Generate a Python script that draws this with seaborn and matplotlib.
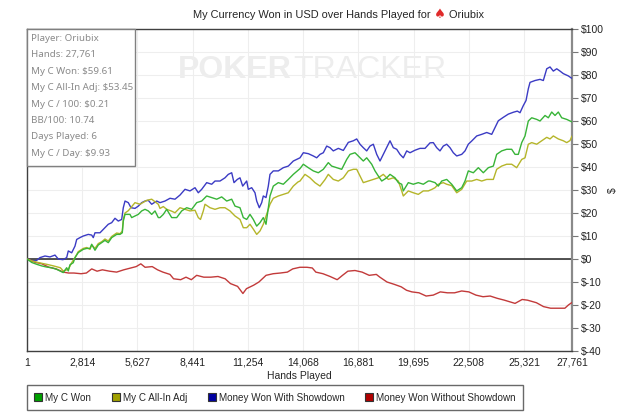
import matplotlib
matplotlib.use("Agg")
import matplotlib.pyplot as plt
from matplotlib.patches import Rectangle
from matplotlib.lines import Line2D
from matplotlib.ticker import FuncFormatter
import pandas as pd
import seaborn as sns

# -----------------------------
# DATA
# -----------------------------
won_hands = [1, 239, 494, 749, 1003, 1258, 1513, 1681, 1849, 2022,
             2104, 2191, 2359, 2445, 2613, 2868, 3041, 3210, 3296, 3464,
             3632, 3805, 3973, 4141, 4315, 4569, 4737, 4854, 4906, 4993,
             5247, 5333, 5502, 5670, 5843, 6011, 6179, 6352, 6521, 6689,
             6775, 6945, 7116, 7371, 7626, 7881, 8135, 8390, 8645, 8899,
             9154, 9409, 9663, 9918, 10173, 10427, 10596, 10850, 11018, 11191,
             11360, 11528, 11701, 11869, 12037, 12175, 12292, 12378, 12547, 12802,
             13056, 13311, 13566, 13907, 14075, 14330, 14584, 14839, 15094, 15348,
             15520, 15776, 16031, 16286, 16454, 16709, 16963, 17131, 17304, 17559,
             17728, 17895, 18069, 18323, 18491, 18747, 18914, 19087, 19168, 19423,
             19678, 19932, 20187, 20442, 20529, 20784, 20952, 21125, 21379, 21634,
             21889, 22144, 22312, 22480, 22735, 22990, 23244, 23499, 23754, 23924,
             24179, 24434, 24689, 24859, 25027, 25200, 25368, 25536, 25709, 25964,
             26132, 26387, 26555, 26728, 26896, 27064, 27237, 27492, 27761]
won_usd = [0, -1.5, -2.3, -3.0, -3.5, -3.8, -4.5, -5.2, -5.9, -3.8,
           -5.2, -2.5, -1.6, 0.6, 2.8, 4.2, 4.6, 4.6, 6.4, 3.8,
           6.1, 7.1, 8.1, 7.1, 9.3, 10.7, 10.7, 11.4, 16.5, 19.4,
           19.4, 18.0, 18.7, 19.4, 20.9, 21.6, 20.9, 19.4, 20.9, 18.0,
           18.0, 19.4, 21.6, 18.0, 18.0, 20.9, 22.3, 21.6, 24.5, 25.2,
           27.4, 26.7, 26.0, 27.0, 25.2, 26.0, 23.0, 22.3, 18.0, 17.2,
           19.4, 17.2, 14.3, 15.8, 18.0, 15.1, 22.3, 27.4, 31.7, 33.2,
           32.5, 34.6, 36.8, 39.3, 41.2, 39.7, 38.3, 37.5, 39.0, 41.9,
           40.4, 39.7, 39.0, 43.3, 45.5, 46.2, 44.0, 42.6, 44.0, 41.2,
           38.3, 36.1, 33.9, 35.3, 36.8, 35.3, 33.2, 32.5, 29.6, 33.2,
           32.5, 33.2, 32.5, 33.9, 33.9, 33.2, 31.7, 33.9, 34.6, 32.5,
           29.6, 31.0, 33.9, 38.3, 37.5, 39.7, 37.5, 39.7, 40.4, 45.5,
           47.0, 47.7, 47.7, 45.5, 45.5, 50.6, 53.5, 60.0, 61.4, 60.7,
           60.0, 62.4, 61.4, 63.9, 62.4, 63.9, 61.4, 60.7, 59.61]

adj_hands = [1, 239, 600, 1000, 1350, 1700, 1849, 2104, 2277, 2445,
             2613, 2868, 3041, 3210, 3296, 3464, 3632, 3805, 3973, 4141,
             4315, 4569, 4737, 4854, 4906, 4993, 5161, 5502, 5757, 6097,
             6352, 6689, 6775, 6945, 7116, 7371, 7539, 7794, 8049, 8303,
             8558, 8726, 8838, 8981, 9067, 9322, 9577, 9831, 10086, 10341,
             10596, 10850, 11018, 11191, 11360, 11528, 11701, 11869, 12037, 12208,
             12378, 12547, 12802, 13056, 13311, 13566, 13805, 13907, 14160, 14415,
             14669, 14924, 15179, 15348, 15603, 15858, 16113, 16367, 16622, 16795,
             16963, 17131, 17386, 17641, 17895, 18150, 18405, 18659, 18914, 19087,
             19168, 19423, 19678, 19932, 20187, 20442, 20631, 20784, 20952, 21205,
             21379, 21634, 21889, 22144, 22397, 22653, 22908, 23163, 23417, 23754,
             23924, 24179, 24434, 24689, 24943, 25200, 25368, 25536, 25709, 25964,
             26219, 26474, 26642, 26810, 27064, 27319, 27492, 27661, 27761]
adj_usd = [0, -0.8, -1.6, -2.3, -3.0, -3.8, -5.2, -4.5, -1.6, 0.6,
           3.2, 4.6, 5.0, 4.2, 6.1, 4.6, 6.7, 7.5, 8.7, 7.8,
           9.8, 11.3, 11.0, 12.1, 17.2, 20.0, 21.0, 24.5, 23.8, 25.5,
           26.0, 23.8, 22.0, 22.8, 21.6, 20.8, 20.1, 22.3, 21.6, 20.9,
           21.2, 18.0, 17.2, 20.9, 23.8, 22.3, 21.6, 22.3, 22.3, 20.9,
           18.7, 17.2, 13.6, 13.6, 15.1, 13.0, 10.7, 12.2, 15.1, 19.4,
           23.8, 26.4, 27.4, 28.1, 28.8, 31.7, 33.5, 33.9, 36.8, 35.3,
           33.2, 31.7, 34.5, 36.8, 34.6, 33.9, 35.3, 38.3, 39.0, 39.0,
           36.1, 33.2, 33.9, 34.6, 35.3, 36.8, 34.6, 35.3, 33.9, 29.6,
           27.4, 29.6, 28.8, 28.1, 29.6, 29.6, 30.3, 31.0, 32.5, 33.2,
           32.5, 31.9, 28.8, 30.3, 33.9, 33.9, 34.6, 33.9, 34.6, 34.6,
           39.0, 40.4, 41.2, 41.2, 39.7, 43.3, 44.0, 49.9, 50.6, 49.9,
           51.4, 52.9, 52.2, 53.5, 52.2, 51.4, 50.6, 51.5, 53.45]

sd_hands = [1, 239, 494, 662, 917, 1172, 1426, 1594, 1834, 2022,
            2104, 2277, 2445, 2532, 2700, 2868, 3123, 3296, 3377, 3464,
            3719, 3973, 4141, 4315, 4483, 4651, 4824, 4906, 4993, 5161,
            5298, 5502, 5670, 5843, 6011, 6179, 6352, 6607, 6775, 7030,
            7285, 7539, 7794, 8049, 8303, 8558, 8726, 8899, 9154, 9409,
            9577, 9831, 10086, 10254, 10427, 10545, 10713, 10850, 10988, 11191,
            11273, 11446, 11614, 11701, 11834, 11955, 12037, 12175, 12292, 12378,
            12547, 12802, 13056, 13311, 13566, 13907, 14075, 14330, 14584, 14757,
            14926, 15094, 15267, 15435, 15603, 15858, 16113, 16367, 16622, 16795,
            16963, 17131, 17304, 17473, 17641, 17814, 17982, 18150, 18323, 18491,
            18659, 18832, 19000, 19168, 19342, 19510, 19765, 20019, 20274, 20529,
            20697, 20869, 21037, 21205, 21379, 21547, 21715, 21889, 22144, 22312,
            22480, 22653, 22908, 23163, 23417, 23672, 23840, 24008, 24263, 24518,
            24772, 24976, 25113, 25281, 25419, 25536, 25623, 25878, 26132, 26300,
            26474, 26642, 26810, 26983, 27151, 27319, 27574, 27761]
sd_usd = [0, -0.8, -0.6, 0.6, 1.3, 0.9, 1.7, 0.0, -0.3, 0.6,
          3.5, 2.7, 5.6, 8.5, 9.3, 10.0, 10.7, 10.4, 9.3, 11.4,
          11.4, 13.6, 15.1, 15.8, 17.7, 16.5, 17.2, 22.3, 25.2, 24.5,
          22.3, 22.0, 23.0, 24.5, 25.2, 25.5, 23.8, 25.2, 24.5, 25.2,
          26.4, 26.0, 27.8, 30.3, 29.6, 31.0, 28.8, 30.3, 33.2, 32.5,
          33.9, 33.9, 35.3, 36.8, 37.5, 33.2, 34.6, 35.3, 31.7, 33.9,
          30.3, 31.0, 28.8, 25.2, 22.3, 24.5, 27.4, 26.7, 31.7, 36.8,
          38.3, 38.3, 39.7, 40.4, 42.6, 44.0, 46.2, 45.8, 44.8, 44.0,
          45.5, 46.2, 49.1, 48.4, 47.0, 48.1, 47.2, 50.7, 51.4, 52.2,
          49.9, 48.4, 47.0, 49.1, 49.9, 45.5, 42.6, 45.5, 48.4, 51.4,
          48.4, 47.7, 45.5, 44.0, 47.0, 46.2, 47.3, 48.1, 48.1, 50.5,
          50.6, 48.4, 47.0, 49.1, 49.9, 48.4, 46.2, 44.8, 45.5, 47.0,
          49.9, 51.3, 53.5, 54.2, 55.0, 54.2, 57.2, 60.1, 61.6, 63.0,
          63.8, 64.3, 63.6, 66.7, 68.9, 74.0, 76.8, 77.6, 78.1, 77.6,
          82.7, 83.5, 81.7, 82.7, 81.7, 80.6, 79.6, 78.5]

nosd_hands = [1, 399, 761, 1123, 1486, 1848, 2120, 2392, 2754, 3026,
              3298, 3570, 3841, 4204, 4566, 4929, 5291, 5563, 5798, 6016,
              6378, 6650, 6922, 7284, 7466, 7828, 8100, 8371, 8643, 9006,
              9368, 9730, 10093, 10365, 10727, 10999, 11180, 11542, 11814, 12177,
              12539, 12901, 13264, 13536, 13898, 14260, 14532, 14713, 15076, 15438,
              15800, 16072, 16344, 16706, 17069, 17431, 17793, 17975, 18337, 18700,
              19062, 19334, 19606, 19968, 20331, 20693, 21055, 21418, 21780, 22142,
              22505, 22867, 23229, 23592, 23954, 24317, 24860, 25223, 25494, 25947,
              26310, 26672, 27034, 27397, 27578, 27761]
nosd_usd = [0, -1.4, -2.1, -3.6, -4.3, -5.7, -6.1, -6.1, -6.4, -6.1,
            -4.3, -5.3, -4.7, -5.3, -5.7, -4.7, -3.9, -3.3, -2.1, -3.6,
            -3.3, -4.7, -5.7, -6.7, -8.6, -9.0, -7.9, -9.0, -7.1, -7.9,
            -7.9, -7.6, -8.6, -10.7, -11.9, -15.0, -12.9, -11.4, -10.0, -7.1,
            -6.4, -6.1, -5.7, -4.3, -3.6, -3.6, -3.9, -5.7, -6.4, -7.6,
            -9.0, -7.1, -5.3, -5.0, -5.7, -7.1, -6.7, -7.9, -10.0, -11.0,
            -12.1, -13.6, -14.3, -14.7, -16.1, -15.7, -14.3, -14.7, -14.7, -13.9,
            -14.3, -15.7, -16.4, -16.1, -17.1, -17.9, -19.3, -17.6, -17.9, -19.0,
            -20.7, -21.4, -21.4, -21.4, -20.0, -18.9]

series_names = ["My C Won", "My C All-In Adj", "Money Won With Showdown", "Money Won Without Showdown"]
line_colors = ["#38b438", "#b5b52a", "#3b3bc4", "#c23a3a"]
legend_colors = ["#00a000", "#a0a000", "#0000a0", "#b00000"]

x_ticks = [1, 2814, 5627, 8441, 11254, 14068, 16881, 19695, 22508, 25321, 27761]
y_ticks = list(range(-40, 101, 10))

info_lines = ["Player: Oriubix", "Hands: 27,761", "My C Won: $59.61", "My C All-In Adj: $53.45",
              "My C / 100: $0.21", "BB/100: 10.74", "Days Played: 6", "My C / Day: $9.93"]

# -----------------------------
# LONG TABLE FOR SEABORN
# -----------------------------
pairs = [(won_hands, won_usd), (adj_hands, adj_usd), (sd_hands, sd_usd), (nosd_hands, nosd_usd)]
df = pd.concat([pd.DataFrame({"hand": h, "usd": v, "series": n})
                for n, (h, v) in zip(series_names, pairs)], ignore_index=True)

# -----------------------------
# FIGURE
# -----------------------------
sns.set_style("white")
plt.rcParams["font.family"] = ["Liberation Sans", "DejaVu Sans"]

fig = plt.figure(figsize=(6.4, 4.16), dpi=100)
ax = fig.add_axes([27 / 640, 65 / 416, 545 / 640, 322 / 416])

# watermark
wm = ax.text(0.277, 0.873, "POKER", transform=ax.transAxes, fontsize=23, fontweight="bold",
             color="#ededed", ha="left", va="center", zorder=0)
ax.annotate("TRACKER", xy=(1, 0.5), xycoords=wm, xytext=(1, 0), textcoords="offset points",
            fontsize=23, color="#ededed", ha="left", va="center", zorder=0)

palette = dict(zip(series_names, line_colors))
draw_order = [series_names[2], series_names[3], series_names[1], series_names[0]]
sns.lineplot(data=df, x="hand", y="usd", hue="series", hue_order=draw_order, palette=palette,
             estimator=None, linewidth=1.0, legend=False, ax=ax, zorder=3)

ax.axhline(0, color="#222222", lw=1.1, zorder=2)

ax.set_xlim(1, 27761)
ax.set_ylim(-40, 100)
ax.set_xticks(x_ticks)
ax.set_xticklabels([f"{t:,}" for t in x_ticks])
ax.set_yticks(y_ticks)
ax.yaxis.set_major_formatter(FuncFormatter(lambda v, p: f"${int(v)}"))
ax.yaxis.tick_right()
ax.yaxis.set_label_position("right")
ax.grid(True, color="#eeeeee", lw=0.8)
ax.set_axisbelow(True)

ax.tick_params(axis="both", labelsize=7.5, colors="#222222", direction="out")
ax.tick_params(axis="x", length=3, color="#555555", pad=2)
ax.tick_params(axis="y", length=4, color="#777777", pad=2.5)

for side in ["left", "bottom", "top"]:
    ax.spines[side].set_color("#404040")
    ax.spines[side].set_linewidth(1.0)
ax.spines["right"].set_color("#8a8a8a")
ax.spines["right"].set_linewidth(1.6)

ax.set_xlabel("Hands Played", fontsize=7.5, labelpad=2)
ax.set_ylabel("$", fontsize=7.5, labelpad=3)

# title with red spade
t1 = fig.text(193 / 640, 1 - 15 / 416, "My Currency Won in USD over Hands Played for ",
              fontsize=7.9, ha="left", va="center")
sp = ax.annotate("\u2660", xy=(1, 0.5), xycoords=t1, xytext=(0, 0), textcoords="offset points",
                 fontsize=9.5, color="#e02a2a", family="DejaVu Sans", ha="left", va="center",
                 annotation_clip=False)
ax.annotate(" Oriubix", xy=(1, 0.5), xycoords=sp, fontsize=7.9, ha="left", va="center",
            annotation_clip=False)

# info box
box_w, box_h = 108 / 545, 137 / 322
ax.add_patch(Rectangle((0, 1 - box_h), box_w, box_h, transform=ax.transAxes,
                       facecolor="white", edgecolor="#808080", lw=1.0, zorder=5, clip_on=False))
for i, line in enumerate(info_lines):
    ypx = 38.5 + i * 16.4
    ax.text(4 / 545, (351 - ypx) / 322, line, transform=ax.transAxes, fontsize=7,
            family=["Noto Sans", "DejaVu Sans"], color="#8a8a8a", ha="left", va="center", zorder=6)

# legend
handles = [Line2D([], [], marker="s", linestyle="none", markersize=6,
                  markerfacecolor=c, markeredgecolor="#333333", markeredgewidth=0.8)
           for c in legend_colors]
leg = fig.legend(handles, series_names, loc="lower left", bbox_to_anchor=(27 / 640, 6 / 416),
                 ncol=4, frameon=True, fancybox=False, edgecolor="#444444", fontsize=7.1,
                 handletextpad=0.3, columnspacing=2.1, borderpad=0.75, handlelength=0.8,
                 borderaxespad=0)
leg.get_frame().set_linewidth(1.0)

fig.savefig("out.png", dpi=100)
